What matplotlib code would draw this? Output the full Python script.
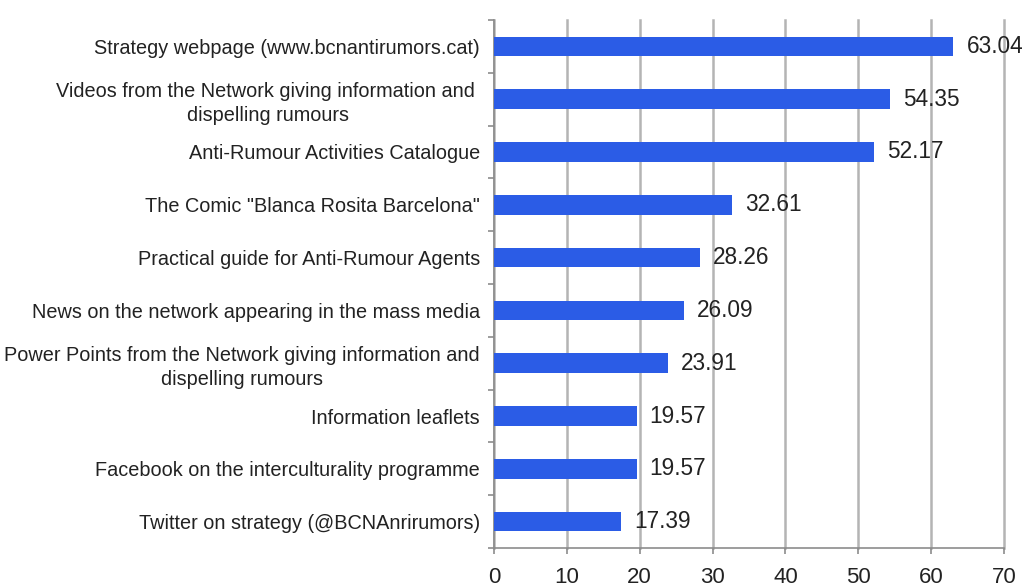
import matplotlib.pyplot as plt
import numpy as np

categories = [
    'Strategy webpage (www.bcnantirumors.cat)',
    'Videos from the Network giving information and \ndispelling rumours',
    'Anti-Rumour Activities Catalogue',
    'The Comic "Blanca Rosita Barcelona"',
    'Practical guide for Anti-Rumour Agents',
    'News on the network appearing in the mass media',
    'Power Points from the Network giving information and\ndispelling rumours',
    'Information leaflets',
    'Facebook on the interculturality programme',
    'Twitter on strategy (@BCNAnrirumors)',
]
values = [63.04, 54.35, 52.17, 32.61, 28.26, 26.09, 23.91, 19.57, 19.57, 17.39]
xticks = [0, 10, 20, 30, 40, 50, 60, 70]

plt.rcParams['font.family'] = ['Liberation Sans', 'DejaVu Sans']

fig = plt.figure(figsize=(10.28, 5.88), dpi=100)
ax = fig.add_axes([0.4805, 0.068, 0.4962, 0.898])

y = np.arange(len(categories))
ax.barh(y, values, height=0.37, color='#2B5CE6', zorder=3)

for yi, v in zip(y, values):
    ax.text(v + 1.8, yi, f'{v:.2f}', va='center', ha='left', fontsize=16.3,
            color='#222222', zorder=4)

ax.set_xlim(0, 70)
ax.set_ylim(len(categories) - 0.5, -0.5)
ax.set_xticks(xticks)
ax.set_xticklabels([str(t) for t in xticks], fontsize=16, color='#222222')
ax.set_yticks(y)
ax.set_yticklabels(categories, fontsize=14.3, color='#222222',
                   multialignment='center', linespacing=1.35)
ax.set_yticks(np.arange(len(categories) + 1) - 0.5, minor=True)

ax.tick_params(axis='y', which='major', length=0, pad=10)
ax.tick_params(axis='y', which='minor', length=4, width=1.2, color='#8c8c8c')
ax.tick_params(axis='x', length=4, width=1.2, color='#8c8c8c', pad=10)

ax.grid(axis='x', color='#b4b4b4', linewidth=1.8, zorder=0)
for gl in ax.get_xgridlines():
    gl.set_clip_on(False)
for s in ['top', 'right']:
    ax.spines[s].set_visible(False)
for s in ['left', 'bottom']:
    ax.spines[s].set_color('#8c8c8c')
    ax.spines[s].set_linewidth(1.2)

fig.savefig('out.png', dpi=100)
